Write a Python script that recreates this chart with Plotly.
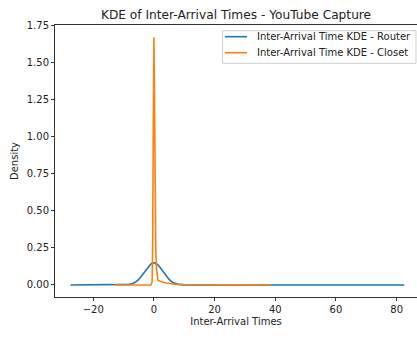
import plotly.graph_objects as go

# Kernel density estimates of packet inter-arrival times (sampled curve points)
router_x = [-27.5, -20, -15, -10, -8, -7, -6, -5, -4, -3, -2, -1, 0, 1, 2, 3, 4, 5, 6, 7, 8,
            10, 15, 20, 30, 40, 50, 60, 70, 82.5]
router_y = [0, 0, 0, 0.001, 0.004, 0.010, 0.020, 0.037, 0.062, 0.091, 0.120, 0.142, 0.150,
            0.142, 0.120, 0.091, 0.062, 0.037, 0.020, 0.010, 0.004, 0.001, 0, 0, 0, 0, 0, 0, 0, 0]

closet_x = [-13, -5, -2, -1, -0.6, -0.4, -0.2, 0, 0.2, 0.4, 0.6, 0.8, 1.0, 1.3, 1.6, 2, 3, 4,
            5, 7, 10, 15, 20, 25, 30, 38.5]
closet_y = [0, 0, 0, 0.001, 0.02, 0.3, 1.1, 1.67, 1.25, 0.6, 0.25, 0.12, 0.06, 0.035, 0.028,
            0.024, 0.018, 0.013, 0.009, 0.005, 0.003, 0.002, 0.001, 0.0005, 0.0002, 0]

series_names = ["Inter-Arrival Time KDE - Router", "Inter-Arrival Time KDE - Closet"]
series_colors = ["#1f77b4", "#ff7f0e"]
x_ticks = [-20, 0, 20, 40, 60, 80]
y_ticks = [0.00, 0.25, 0.50, 0.75, 1.00, 1.25, 1.50, 1.75]

FONT = "DejaVu Sans"
TEXT = "#222222"

fig = go.Figure()
for xs, ys, name, color in zip([router_x, closet_x], [router_y, closet_y],
                               series_names, series_colors):
    fig.add_trace(go.Scatter(x=xs, y=ys, mode="lines", name=name,
                             line=dict(color=color, width=1.6), showlegend=False))

# Compact legend box in the upper right of the axes
shapes = [dict(type="rect", xref="paper", yref="paper", x0=0.4627, x1=0.9972, y0=0.859, y1=0.979,
               line=dict(color="#d0d0d0", width=1), fillcolor="rgba(255,255,255,0.8)", layer="above")]
annotations = []
row_y = [0.957, 0.898]
for name, color, yy in zip(series_names, series_colors, row_y):
    shapes.append(dict(type="line", xref="paper", yref="paper", x0=0.4696, x1=0.5304, y0=yy, y1=yy,
                       line=dict(color=color, width=1.6), layer="above"))
    annotations.append(dict(text=name, xref="paper", yref="paper", x=0.5525, y=yy,
                            xanchor="left", yanchor="middle", showarrow=False,
                            font=dict(family=FONT, size=10, color=TEXT)))

fig.update_layout(
    width=417, height=339,
    margin=dict(l=55, r=0, t=25, b=42),
    paper_bgcolor="white", plot_bgcolor="white",
    font=dict(family=FONT, size=10, color=TEXT),
    title=dict(text="KDE of Inter-Arrival Times - YouTube Capture",
               font=dict(family=FONT, size=12.2, color=TEXT),
               x=0.5, xref="paper", xanchor="center", y=0.958, yanchor="middle"),
    shapes=shapes,
    annotations=annotations,
    showlegend=False,
)

fig.update_xaxes(
    range=[-32.6, 86.7], tickvals=x_ticks, ticks="outside", ticklen=3, tickcolor="#333",
    showgrid=False, zeroline=False, showline=True, linecolor="#333", linewidth=1, mirror=True,
    title=dict(text="Inter-Arrival Times", font=dict(family=FONT, size=10, color=TEXT), standoff=3),
    tickfont=dict(family=FONT, size=10, color=TEXT),
)
fig.update_yaxes(
    range=[-0.081, 1.752], tickvals=y_ticks, tickformat=".2f", ticks="outside", ticklen=3,
    tickcolor="#333", showgrid=False, zeroline=False, showline=True, linecolor="#333", linewidth=1,
    title=dict(text="Density", font=dict(family=FONT, size=10, color=TEXT), standoff=6),
    tickfont=dict(family=FONT, size=10, color=TEXT),
)

fig.write_html("out.html")
